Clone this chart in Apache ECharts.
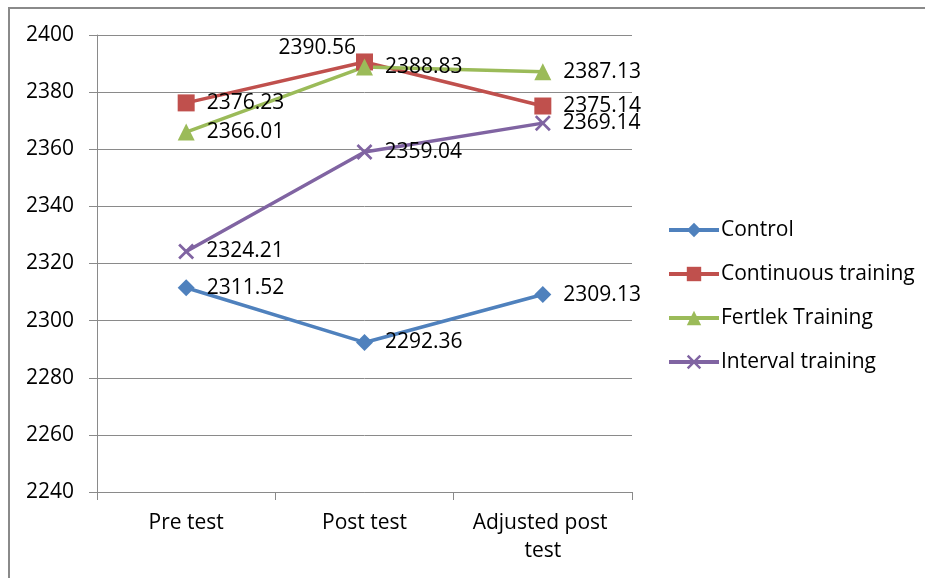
<!DOCTYPE html>
<html>
<head>
<meta charset="utf-8">
<script src="https://cdn.jsdelivr.net/npm/echarts@6/dist/echarts.min.js"></script>
<style>html,body{margin:0;padding:0;background:#fff;}#c{width:925px;height:578px;}</style>
</head>
<body>
<div id="c"></div>
<script>
const categories = ['Pre test', 'Post test', 'Adjusted post test'];
const control = [2311.52, 2292.36, 2309.13];
const continuous = [2376.23, 2390.56, 2375.14];
const fertlek = [2366.01, 2388.83, 2387.13];
const interval = [2324.21, 2359.04, 2369.14];
const seriesNames = ['Control', 'Continuous training', 'Fertlek Training', 'Interval training'];
const yTicks = { min: 2240, max: 2400, step: 20 };

const FONT = 'Open Sans';
const FS = 21;
const xPath = 'path://M0,1.2 L1.2,0 L5,3.8 L8.8,0 L10,1.2 L6.2,5 L10,8.8 L8.8,10 L5,6.2 L1.2,10 L0,8.8 L3.8,5 Z';

function mkSeries(name, data, color, symbol, size, labelOverrides) {
  return {
    name: name, type: 'line', data: data.map((v, i) => {
      const o = { value: v };
      if (labelOverrides && labelOverrides[i]) o.label = labelOverrides[i];
      return o;
    }),
    symbol: symbol, symbolSize: size,
    lineStyle: { color: color, width: 3.5 },
    itemStyle: { color: color },
    label: { show: true, position: 'right', distance: 12, color: '#000', fontFamily: FONT, fontSize: FS,
      formatter: p => p.value.toFixed(2) },
    emphasis: { disabled: true },
    animation: false
  };
}

const chart = echarts.init(document.getElementById('c'));
chart.setOption({
  animation: false,
  graphic: [{ type: 'rect', shape: { x: 9, y: 8, width: 940, height: 600 }, style: { fill: 'none', stroke: '#8a8a8a', lineWidth: 2 }, silent: true }],
  grid: { left: 97, right: 293, top: 35, bottom: 86 },
  legend: {
    orient: 'vertical', left: 662, top: 213, itemWidth: 50, itemHeight: 18, itemGap: 20,
    lineStyle: { width: 4 },
    textStyle: { fontFamily: FONT, fontSize: FS, color: '#000', lineHeight: 24, padding: [0, 0, 0, -3] },
    data: seriesNames.map(n => ({ name: n, lineStyle: { width: 4 } }))
  },
  xAxis: {
    type: 'category', data: categories, boundaryGap: true,
    axisLine: { lineStyle: { color: '#8a8a8a', width: 1 } },
    axisTick: { show: true, length: 8, lineStyle: { color: '#8a8a8a' } },
    axisLabel: { color: '#000', fontFamily: FONT, fontSize: FS, margin: 17, lineHeight: 28, width: 150, overflow: 'break', interval: 0 }
  },
  yAxis: {
    type: 'value', min: yTicks.min, max: yTicks.max, interval: yTicks.step,
    axisLine: { show: true, lineStyle: { color: '#8a8a8a', width: 1 } },
    axisTick: { show: true, length: 8, lineStyle: { color: '#8a8a8a' } },
    splitLine: { lineStyle: { color: '#8a8a8a', width: 1 } },
    axisLabel: { color: '#000', fontFamily: FONT, fontSize: FS, margin: 23, formatter: v => String(v) }
  },
  series: [
    mkSeries(seriesNames[0], control, '#4F81BD', 'diamond', 17),
    mkSeries(seriesNames[1], continuous, '#C0504D', 'rect', 17, { 1: { position: 'left', distance: 0, offset: [0, -14] } }),
    mkSeries(seriesNames[2], fertlek, '#9BBB59', 'triangle', 17),
    mkSeries(seriesNames[3], interval, '#8064A2', xPath, 16)
  ]
});
</script>
</body>
</html>
